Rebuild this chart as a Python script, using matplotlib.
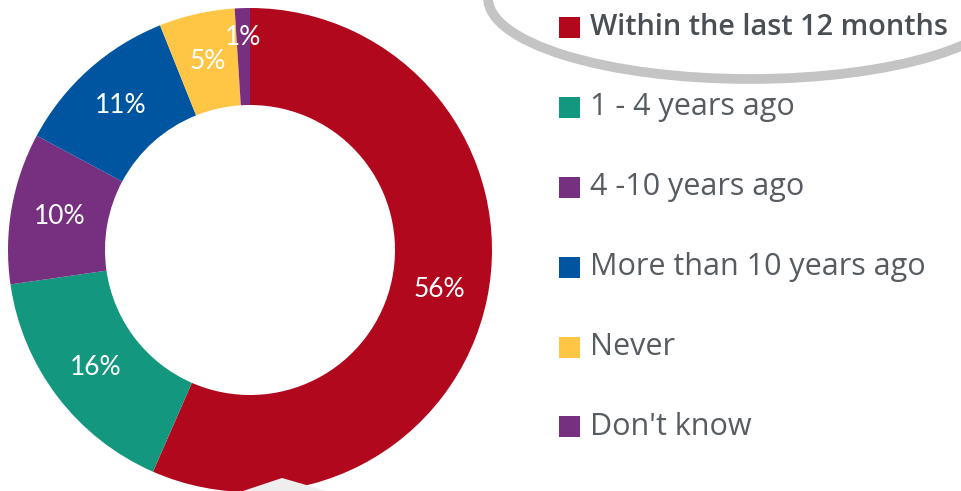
import matplotlib.pyplot as plt
import numpy as np
from matplotlib.patches import Rectangle, Ellipse, Polygon

# data
categories = ["Within the last 12 months", "1 - 4 years ago", "4 -10 years ago",
              "More than 10 years ago", "Never", "Don't know"]
values = [56, 16, 10, 11, 5, 1]
colors = ["#b1081e", "#14977f", "#772f80", "#0055a1", "#ffc645", "#772f80"]

W, H = 962, 491
fig = plt.figure(figsize=(W / 100, H / 100), dpi=100)
ax = fig.add_axes([0, 0, 1, 1])

# grey swoosh behind the legend
ax.add_patch(Ellipse((750, H + 2), 524, 162, fill=False, edgecolor="#c4c4c4",
                     linewidth=7, zorder=0))
ax.add_patch(Polygon([(243, 0), (282, H - 478), (327, 0)], closed=True,
                     facecolor="#eeeeee", edgecolor="none", zorder=3))

# donut
cx, cy, r_out, r_in = 250, H - 250, 242, 145
wedges, _ = ax.pie(values, colors=colors, startangle=90, counterclock=False,
                   center=(cx, cy), radius=r_out, frame=True,
                   wedgeprops=dict(width=r_out - r_in, edgecolor="none"))
ax.set_xlim(0, W)
ax.set_ylim(0, H)
ax.axis("off")

for w, v in zip(wedges, values):
    ang = np.deg2rad((w.theta1 + w.theta2) / 2)
    # tiny slices get their label pushed outwards
    r_lab = 0.88 * r_out if v < 3 else (r_out + r_in) / 2
    ax.text(cx + r_lab * np.cos(ang), cy + r_lab * np.sin(ang), f"{v}%",
            ha="center", va="center", color="white", fontsize=19,
            family="Lato", zorder=5)

# legend
for i, (cat, col) in enumerate(zip(categories, colors)):
    yc = H - (27 + 80 * i)
    ax.add_patch(Rectangle((559, yc - 10.5), 21, 21, facecolor=col,
                           edgecolor="none", zorder=4))
    ax.text(590, yc - 8, cat, ha="left", va="baseline",
            fontsize=20.8 if i == 0 else 22,
            family="Open Sans", color="#4a4f54" if i == 0 else "#575c61",
            fontweight="semibold" if i == 0 else "normal", zorder=4)

fig.savefig("out.png", dpi=100)
